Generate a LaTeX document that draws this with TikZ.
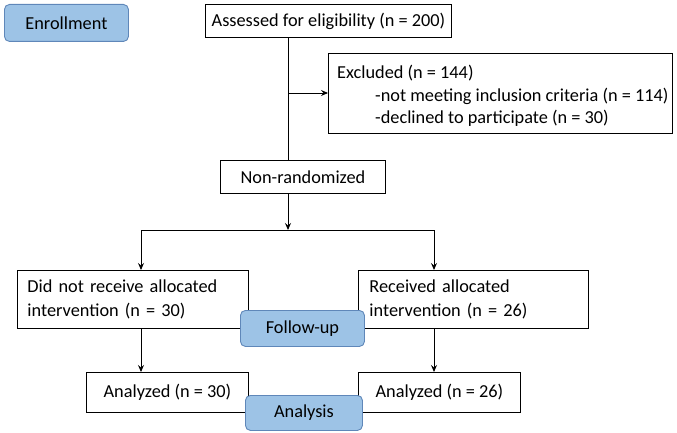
\documentclass[tikz,border=0pt]{standalone}
\usepackage{fontspec}
\setmainfont{Carlito}
\usetikzlibrary{arrows.meta,positioning}
\definecolor{phasefill}{RGB}{157,195,230}
\definecolor{phasedraw}{RGB}{95,135,185}
\begin{document}
\begin{tikzpicture}[x=1pt,y=-1pt,
  txt/.style={font=\fontsize{18.3}{24}\selectfont},
  box/.style={txt,draw=black,line width=0.9pt,fill=white,anchor=north west,inner sep=0pt},
  phase/.style={txt,draw=phasedraw,line width=0.9pt,fill=phasefill,rounded corners=5pt,anchor=north west,inner sep=0pt},
  conn/.style={line width=0.9pt},
  arr/.style={line width=0.9pt,-{Stealth[length=7pt,width=6pt,inset=2.5pt]}}]
\useasboundingbox (0,0) rectangle (677,433);
% phase labels
\node[phase,minimum width=124pt,minimum height=37pt] (enr) at (4,4) {Enrollment};
% boxes
\node[box,minimum width=246pt,minimum height=33pt] (assess) at (205,4) {Assessed for eligibility (n = 200)};
\node[box,minimum width=344pt,minimum height=80pt] (excl) at (328,53) {};
\node[txt,anchor=north west,inner sep=0pt,align=left,font=\fontsize{18.3}{22.5}\selectfont] (excltxt) at (337,65)
  {Excluded (n = 144)\\
   \hspace*{38pt}-not meeting inclusion criteria (n = 114)\\
   \hspace*{38pt}-declined to participate (n = 30)};
\node[box,minimum width=165pt,minimum height=33pt] (nonrand) at (220,160) {Non-randomized};
\node[box,minimum width=231pt,minimum height=58pt,text width=211pt,align=left] (didnot) at (17,270) {Did not receive allocated\\intervention (n = 30)};
\node[box,minimum width=230pt,minimum height=58pt,text width=208pt,align=left] (recv) at (358,270) {Received allocated\\intervention (n = 26)};
\node[box,minimum width=162pt,minimum height=40pt] (anl) at (86,372) {Analyzed (n = 30)};
\node[box,minimum width=162pt,minimum height=40pt] (anr) at (358,372) {Analyzed (n = 26)};
% junction coordinates
\coordinate (jx) at (288,93);
\coordinate (split) at (288,230);
\coordinate (sl) at (141,230);
\coordinate (sr) at (434,230);
% connectors
\draw[conn] (assess.south -| split) -- (nonrand.north -| split);
\draw[arr] (jx) -- (excl.west |- jx);
\draw[arr] (nonrand.south -| split) -- (split);
\draw[conn] (sl) -- (sr);
\draw[arr] (sl) -- (didnot.north -| sl);
\draw[arr] (sr) -- (recv.north -| sr);
\draw[arr] (didnot.south -| sl) -- (anl.north -| sl);
\draw[arr] (recv.south -| sr) -- (anr.north -| sr);
% overlapping phase labels
\node[phase,minimum width=124pt,minimum height=36pt] (fu) at (240,310) {Follow-up};
\node[phase,minimum width=117pt,minimum height=35pt] (ana) at (245,395) {Analysis};
\end{tikzpicture}
\end{document}
